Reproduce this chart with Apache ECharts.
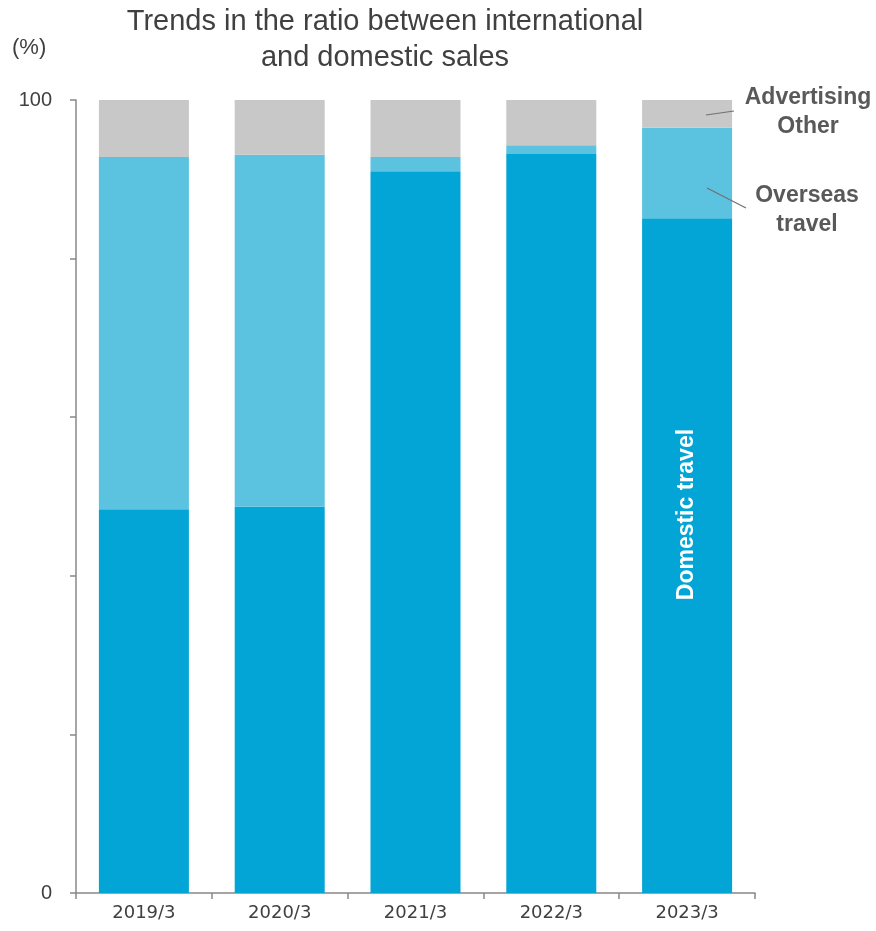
<!DOCTYPE html>
<html>
<head>
<meta charset="utf-8">
<script src="https://cdn.jsdelivr.net/npm/echarts@6/dist/echarts.min.js"></script>
<style>
  html, body { margin: 0; padding: 0; background: #fff; }
  #main { width: 876px; height: 931px; }
</style>
</head>
<body>
<div id="main"></div>
<script>
const categories = ['2019/3', '2020/3', '2021/3', '2022/3', '2023/3'];
const domestic = [48.4, 48.7, 91.0, 93.2, 85.1];
const overseas = [44.4, 44.4, 1.8, 1.1, 11.4];
const other = [7.2, 6.9, 7.2, 5.7, 3.5];

const grey = '#404040';
const annot = '#595959';

// 最后一根柱子的国内旅行标签
const domesticData = domestic.map(function (v, i) {
    if (i !== domestic.length - 1) return v;
    return {
        value: v,
        label: {
            show: true,
            position: 'inside',
            rotate: 90,
            offset: [41, 0],
            formatter: 'Domestic travel',
            color: '#fff',
            fontFamily: 'Liberation Sans',
            fontWeight: 'bold',
            fontSize: 23
        }
    };
});

let option = {
    animation: false,
    backgroundColor: '#fff',
    title: {
        text: 'Trends in the ratio between international\nand domestic sales',
        left: 380,
        top: -1,
        textAlign: 'center',
        textStyle: {
            fontFamily: 'Liberation Sans',
            fontWeight: 'normal',
            fontSize: 29,
            lineHeight: 36,
            color: grey
        }
    },
    grid: {
        left: 76,
        right: 121,
        top: 100,
        bottom: 38
    },
    xAxis: {
        type: 'category',
        data: categories,
        axisLine: { lineStyle: { color: '#888', width: 1.5 } },
        axisTick: { show: true, length: 6, lineStyle: { color: '#888', width: 1.5 } },
        axisLabel: {
            fontFamily: 'DejaVu Sans',
            fontSize: 18,
            color: grey,
            margin: 11
        }
    },
    yAxis: {
        type: 'value',
        min: 0,
        max: 100,
        interval: 20,
        splitLine: { show: false },
        axisLine: { show: true, lineStyle: { color: '#888', width: 1.5 } },
        axisTick: { show: true, length: 6, lineStyle: { color: '#888', width: 1.5 } },
        axisLabel: {
            fontFamily: 'Liberation Sans',
            fontSize: 20,
            color: grey,
            margin: 24,
            formatter: function (v) {
                return (v === 0 || v === 100) ? String(v) : '';
            }
        }
    },
    graphic: [
        {
            type: 'text',
            left: 12,
            top: 37,
            style: { text: '(%)', fontFamily: 'Liberation Sans', fontSize: 22, fill: grey }
        },
        {
            type: 'text',
            x: 808,
            y: 83,
            z: 100,
            style: {
                text: 'Advertising\nOther',
                align: 'center',
                fontFamily: 'Liberation Sans',
                fontWeight: 'bold',
                fontSize: 23,
                lineHeight: 29,
                fill: annot
            }
        },
        {
            type: 'text',
            x: 807,
            y: 181,
            z: 100,
            style: {
                text: 'Overseas\ntravel',
                align: 'center',
                fontFamily: 'Liberation Sans',
                fontWeight: 'bold',
                fontSize: 23,
                lineHeight: 29,
                fill: annot
            }
        },
        {
            type: 'line',
            z: 100,
            shape: { x1: 706, y1: 115, x2: 734, y2: 111 },
            style: { stroke: '#707070', lineWidth: 1.2 }
        },
        {
            type: 'line',
            z: 100,
            shape: { x1: 707, y1: 188, x2: 746, y2: 208 },
            style: { stroke: '#707070', lineWidth: 1.2 }
        }
    ],
    series: [
        {
            name: 'Domestic travel',
            type: 'bar',
            stack: 'total',
            barWidth: 90,
            itemStyle: { color: '#02A5D5' },
            data: domesticData
        },
        {
            name: 'Overseas travel',
            type: 'bar',
            stack: 'total',
            barWidth: 90,
            itemStyle: { color: '#5BC2E0' },
            data: overseas
        },
        {
            name: 'Advertising Other',
            type: 'bar',
            stack: 'total',
            barWidth: 90,
            itemStyle: { color: '#C8C8C8' },
            data: other
        }
    ]
};

var myChart = echarts.init(document.getElementById('main'));
myChart.setOption(option);
</script>
</body>
</html>
